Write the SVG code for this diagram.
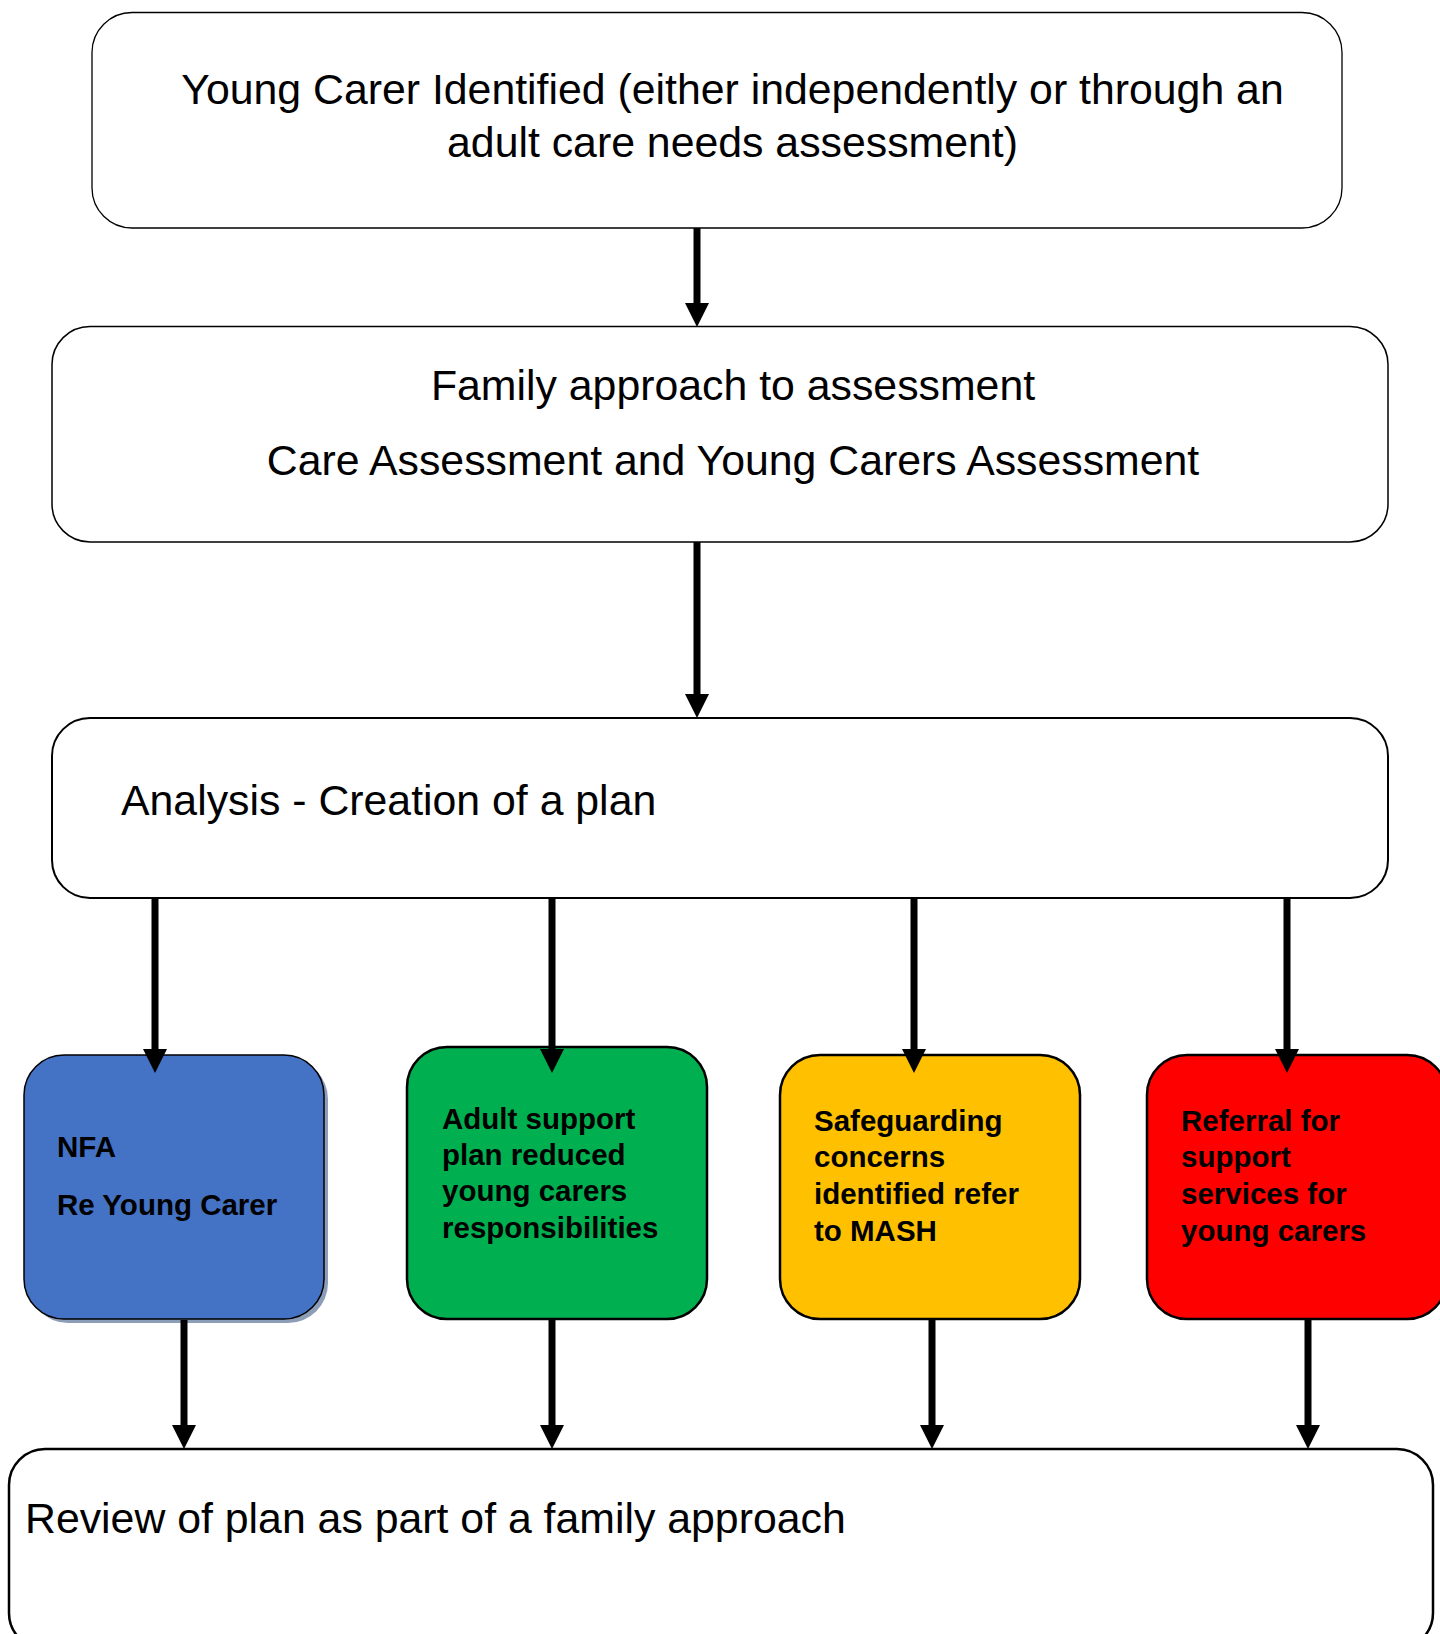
<svg xmlns="http://www.w3.org/2000/svg" width="1440" height="1634" viewBox="0 0 1440 1634">
<defs>
<style>
.t{font-family:"Liberation Sans",Arial,sans-serif;font-size:42.8px;fill:#000}
.b{font-family:"Liberation Sans",Arial,sans-serif;font-size:29.5px;font-weight:bold;fill:#000}
.box{fill:#fff;stroke:#000}
.col{stroke:#000;stroke-width:2.5}
.conn line{stroke:#000;stroke-width:7}
</style>
<marker id="ah" markerUnits="userSpaceOnUse" viewBox="0 0 24 24" markerWidth="24" markerHeight="24" refX="0" refY="12" orient="auto">
<path d="M0,0 L24,12 L0,24 z" fill="#000"/>
</marker>
</defs>
<rect width="1440" height="1634" fill="#fff"/>
<g id="n-identified">
<rect class="box" x="92" y="12.5" width="1250" height="215.5" rx="40" ry="40" stroke-width="1.3"/>
<text class="t" x="732.5" y="104" text-anchor="middle">Young Carer Identified (either independently or through an</text>
<text class="t" x="732.5" y="157" text-anchor="middle">adult care needs assessment)</text>
</g>
<g id="n-family">
<rect class="box" x="52" y="326.5" width="1336" height="215.5" rx="38" ry="38" stroke-width="1.5"/>
<text class="t" x="733" y="400" text-anchor="middle">Family approach to assessment</text>
<text class="t" x="733" y="475" text-anchor="middle">Care Assessment and Young Carers Assessment</text>
</g>
<g id="n-analysis">
<rect class="box" x="52" y="718" width="1336" height="180" rx="38" ry="38" stroke-width="2"/>
<text class="t" x="121" y="815">Analysis - Creation of a plan</text>
</g>
<g id="n-nfa">
<rect x="28" y="1059" width="300" height="264" rx="40" ry="40" fill="#8C9DB8"/>
<rect x="24" y="1055" width="300" height="264" rx="40" ry="40" fill="#4472C4" stroke="#000" stroke-width="1.5"/>
<text class="b" x="57" y="1157">NFA</text>
<text class="b" x="57" y="1215">Re Young Carer</text>
</g>
<g id="n-adult">
<rect class="col" x="407" y="1047" width="300" height="272" rx="40" ry="40" fill="#00B050"/>
<text class="b" x="442" y="1129">Adult support</text>
<text class="b" x="442" y="1165">plan reduced</text>
<text class="b" x="442" y="1201">young carers</text>
<text class="b" x="442" y="1238">responsibilities</text>
</g>
<g id="n-safeguarding">
<rect class="col" x="780" y="1055" width="300" height="264" rx="40" ry="40" fill="#FFC000"/>
<text class="b" x="814" y="1131">Safeguarding</text>
<text class="b" x="814" y="1167">concerns</text>
<text class="b" x="814" y="1204">identified refer</text>
<text class="b" x="814" y="1241">to MASH</text>
</g>
<g id="n-referral">
<rect class="col" x="1147" y="1055" width="300" height="264" rx="40" ry="40" fill="#FF0000"/>
<text class="b" x="1181" y="1131">Referral for</text>
<text class="b" x="1181" y="1167">support</text>
<text class="b" x="1181" y="1204">services for</text>
<text class="b" x="1181" y="1241">young carers</text>
</g>
<g id="n-review">
<rect class="box" x="9" y="1449" width="1424" height="200" rx="36" ry="36" stroke-width="2.5"/>
<text class="t" x="25" y="1533">Review of plan as part of a family approach</text>
</g>
<g id="connectors" class="conn">
<line x1="697" y1="228" x2="697" y2="303" marker-end="url(#ah)"/>
<line x1="697" y1="542" x2="697" y2="694" marker-end="url(#ah)"/>
<line x1="155" y1="898" x2="155" y2="1049" marker-end="url(#ah)"/>
<line x1="552" y1="898" x2="552" y2="1049" marker-end="url(#ah)"/>
<line x1="914" y1="898" x2="914" y2="1049" marker-end="url(#ah)"/>
<line x1="1287" y1="898" x2="1287" y2="1049" marker-end="url(#ah)"/>
<line x1="184" y1="1320" x2="184" y2="1425" marker-end="url(#ah)"/>
<line x1="552" y1="1320" x2="552" y2="1425" marker-end="url(#ah)"/>
<line x1="932" y1="1320" x2="932" y2="1425" marker-end="url(#ah)"/>
<line x1="1308" y1="1320" x2="1308" y2="1425" marker-end="url(#ah)"/>
</g>
</svg>
